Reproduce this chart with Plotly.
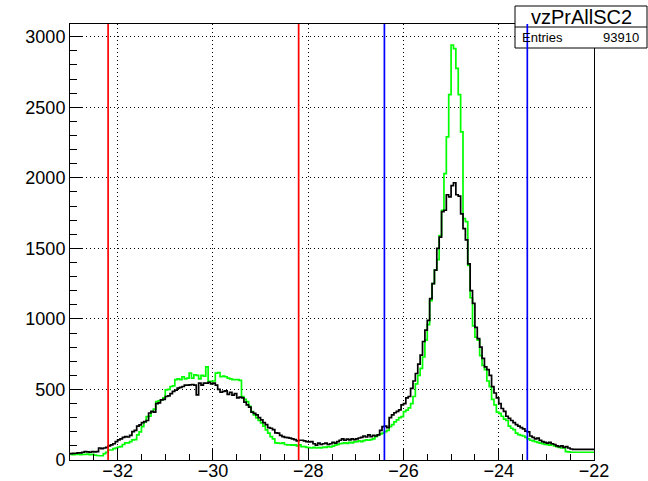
import numpy as np
import plotly.graph_objects as go

# Histogram range / binning (0.05 wide bins from -33 to -22)
x_min, x_max, n_bins = -33.0, -22.0, 220

# Black histogram (bin contents, ascending x)
black_counts = [
    45, 47, 48, 50, 50, 55, 60, 58, 55, 60,
    58, 60, 85, 80, 85, 90, 100, 107, 115, 130,
    142, 150, 160, 165, 163, 175, 201, 210, 240, 249,
    265, 272, 280, 333, 345, 340, 400, 405, 426, 430,
    450, 455, 470, 486, 495, 510, 515, 521, 530, 530,
    533, 535, 530, 462, 545, 530, 545, 545, 550, 540,
    545, 530, 500, 480, 486, 490, 465, 480, 460, 470,
    440, 445, 440, 410, 391, 375, 340, 330, 320, 300,
    284, 265, 250, 230, 225, 215, 192, 190, 175, 165,
    160, 158, 155, 150, 145, 135, 140, 140, 135, 130,
    128, 130, 115, 105, 120, 110, 115, 120, 110, 115,
    125, 120, 130, 140, 150, 140, 148, 142, 150, 145,
    150, 156, 160, 170, 163, 178, 165, 175, 170, 178,
    210, 237, 240, 230, 300, 320, 335, 345, 355, 390,
    400, 440, 450, 507, 560, 613, 680, 743, 840, 920,
    990, 1144, 1250, 1345, 1500, 1580, 1760, 1770, 1880, 1865,
    1945, 1965, 1880, 1870, 1745, 1640, 1560, 1390, 1200, 1110,
    940, 860, 800, 720, 660, 640, 600, 520, 475, 440,
    400, 365, 345, 310, 295, 280, 265, 250, 240, 230,
    220, 205, 200, 170, 160, 150, 155, 140, 130, 125,
    120, 125, 115, 110, 100, 95, 100, 90, 95, 85,
    78, 76, 76, 76, 76, 76, 76, 76, 76, 76,
]

# Green histogram (bin contents, ascending x)
green_counts = [
    40, 38, 40, 42, 38, 40, 39, 41, 38, 40,
    35, 32, 30, 30, 45, 55, 71, 71, 80, 85,
    92, 95, 110, 121, 121, 130, 142, 145, 178, 200,
    237, 270, 308, 310, 343, 360, 414, 420, 426, 440,
    497, 500, 521, 525, 569, 575, 570, 590, 575, 580,
    616, 580, 604, 600, 575, 600, 595, 660, 557, 557,
    560, 616, 620, 590, 595, 590, 580, 575, 569, 569,
    570, 565, 450, 430, 414, 380, 343, 320, 298, 280,
    263, 240, 213, 190, 166, 150, 121, 120, 118, 121,
    110, 107, 107, 105, 107, 100, 107, 95, 95, 90,
    88, 85, 90, 85, 88, 85, 92, 90, 95, 92,
    98, 105, 110, 115, 118, 121, 118, 125, 121, 128,
    130, 135, 130, 138, 142, 140, 145, 150, 165, 178,
    185, 190, 201, 210, 237, 250, 270, 284, 300, 308,
    343, 354, 370, 400, 450, 540, 600, 650, 730, 850,
    960, 1130, 1250, 1345, 1420, 1590, 1770, 2030, 2290, 2590,
    2940, 2915, 2775, 2590, 2325, 1710, 1690, 1380, 1150, 950,
    870, 850, 740, 670, 640, 560, 520, 430, 390, 340,
    330, 310, 290, 280, 240, 225, 215, 190, 180, 175,
    170, 160, 150, 140, 135, 130, 125, 120, 115, 110,
    108, 105, 110, 100, 95, 90, 85, 85, 60, 58,
    55, 55, 55, 55, 55, 55, 55, 55, 55, 55,
]

red_cuts = [-32.2, -28.2]
blue_cuts = [-26.4, -23.4]

hist_name = "vzPrAllSC2"
entries_label = "Entries"
entries_value = "93910"

y_top = 3090

edges = np.linspace(x_min, x_max, n_bins + 1)

fig = go.Figure()
for counts, color in [(green_counts, "#00ff00"), (black_counts, "#000000")]:
    fig.add_trace(go.Scatter(
        x=edges, y=list(counts) + [counts[-1]],
        mode="lines", line=dict(color=color, width=1.7, shape="hv"),
        showlegend=False, hoverinfo="skip",
    ))

shapes = []
# stats box (white, covering frame/grid) -- drawn before cut lines
shapes.append(dict(type="rect", xref="paper", yref="paper",
                   x0=(515 - 70) / 524, x1=(647 - 70) / 524,
                   y0=(460 - 48) / 436, y1=(460 - 6) / 436,
                   line=dict(color="black", width=1), fillcolor="white", layer="above"))
shapes.append(dict(type="line", xref="paper", yref="paper",
                   x0=(515 - 70) / 524, x1=(647 - 70) / 524,
                   y0=(460 - 27) / 436, y1=(460 - 27) / 436,
                   line=dict(color="black", width=1), layer="above"))
for xv in red_cuts:
    shapes.append(dict(type="line", xref="x", yref="y", x0=xv, x1=xv, y0=0, y1=y_top,
                       line=dict(color="#ff0000", width=1.7), layer="above"))
for xv in blue_cuts:
    shapes.append(dict(type="line", xref="x", yref="y", x0=xv, x1=xv, y0=0, y1=y_top,
                       line=dict(color="#0000ff", width=1.7), layer="above"))

annotations = [
    dict(text=hist_name, xref="paper", yref="paper",
         x=(581 - 70) / 524, y=(460 - 16.5) / 436, xanchor="center", yanchor="middle",
         showarrow=False, font=dict(family="Liberation Sans, Arial", size=20, color="black")),
    dict(text=entries_label, xref="paper", yref="paper",
         x=(520 - 70) / 524, y=(460 - 37.5) / 436, xanchor="left", yanchor="middle",
         showarrow=False, font=dict(family="Liberation Sans, Arial", size=13, color="black")),
    dict(text=entries_value, xref="paper", yref="paper",
         x=(641 - 70) / 524, y=(460 - 37.5) / 436, xanchor="right", yanchor="middle",
         showarrow=False, font=dict(family="Liberation Sans, Arial", size=13, color="black")),
]

axis_font = dict(family="Liberation Sans, Arial", size=18, color="black")
grid_dash = "1px,3px"
fig.update_layout(
    width=648, height=481,
    margin=dict(l=70, r=54, t=24, b=21, autoexpand=False),
    paper_bgcolor="white", plot_bgcolor="white",
    shapes=shapes, annotations=annotations,
    xaxis=dict(range=[x_min, x_max], tick0=0, dtick=2, ticks="inside", ticklen=12,
               tickcolor="black", tickwidth=1, showline=True, linecolor="black",
               linewidth=1, mirror=True, showgrid=True, gridcolor="black",
               gridwidth=1, griddash=grid_dash, zeroline=False, tickfont=axis_font,
               ticklabelstandoff=-6,
               minor=dict(dtick=0.5, ticks="inside", ticklen=6, tickcolor="black",
                          showgrid=False)),
    yaxis=dict(range=[0, y_top], tick0=0, dtick=500, ticks="inside", ticklen=13,
               tickcolor="black", tickwidth=1, showline=True, linecolor="black",
               linewidth=1, mirror=True, showgrid=True, gridcolor="black",
               gridwidth=1, griddash=grid_dash, zeroline=False, tickfont=axis_font,
               minor=dict(dtick=100, ticks="inside", ticklen=7, tickcolor="black",
                          showgrid=False)),
)

fig.write_html("out.html")
